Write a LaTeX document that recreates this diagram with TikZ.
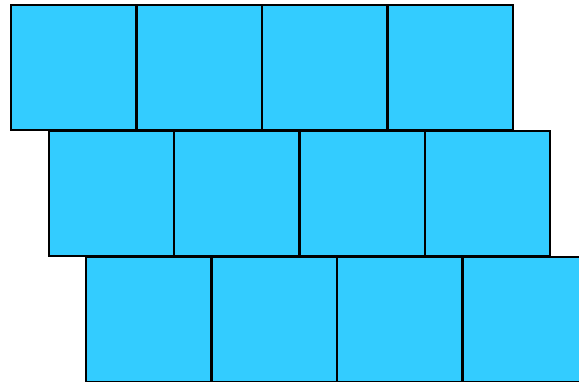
\documentclass[tikz,border=0pt]{standalone}
\usepackage{tikz}
\usetikzlibrary{positioning}
\definecolor{tileblue}{RGB}{51,204,255}

\begin{document}
\begin{tikzpicture}[x=1pt, y=-1pt,
        tile/.style={rectangle, draw=black, fill=tileblue, line width=2pt, minimum size=125pt, inner sep=0pt, anchor=north west}]

        % page area
        \useasboundingbox (0,0) rectangle (579,382);
        \clip (0,0) rectangle (579,382);

        % three rows of four tiles, each row shifted right
        \foreach \r in {0,1,2} {
            \foreach \c in {0,1,2,3} {
                \node[tile] (t-\r-\c) at ({10+37.5*\r+125.5*\c},{4+126*\r}) {};
            }
        }
    \end{tikzpicture}
\end{document}
